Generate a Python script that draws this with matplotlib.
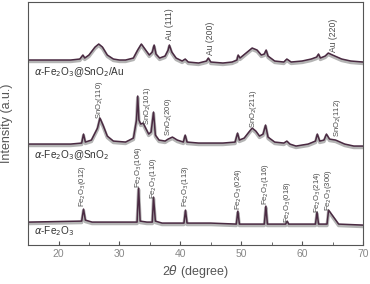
import numpy as np
import matplotlib
matplotlib.use("Agg")
import matplotlib.pyplot as plt

plt.rcParams['font.family'] = ['Liberation Sans', 'DejaVu Sans']

## points, 2theta (deg) vs intensity (a.u., arbitrary offset)
au_x = [15.2, 20, 22, 23.5, 24.0, 24.3, 25.0, 26.0, 26.6, 27.2, 28.0, 29.0, 30, 31,
        32.3, 33.0, 33.6, 34.3, 34.9, 35.4, 35.7, 36.0, 36.6, 37.5, 38.0, 38.2, 38.6,
        39.3, 40.3, 40.8, 41.3, 43, 44.3, 44.6, 45.0, 47, 48.5, 49.3, 49.5, 49.8, 50.8,
        51.8, 52.6, 53.3, 53.8, 54.1, 54.4, 55.5, 57.0, 57.5, 58.2, 60.0, 61.5, 62.4,
        62.7, 63.0, 63.8, 64.3, 65.0, 66.5, 68, 70]
au_y = [185, 185, 185, 186, 190, 187, 190, 198, 201, 198, 190, 186, 185, 185,
        187, 195, 201, 195, 190, 193, 200, 191, 187, 189, 195, 200, 193,
        187, 184, 186, 183, 182, 184, 187, 183, 182, 183, 185, 190, 187, 192,
        197, 195, 190, 191, 195, 189, 184, 183, 186, 183, 184, 186, 188,
        191, 187, 189, 192, 190, 186, 184, 183]

sn_x = [15.2, 22, 23.8, 24.1, 24.4, 25.4, 26.4, 26.8, 27.3, 28.0, 29, 31, 32.3, 32.8,
        33.0, 33.2, 33.5, 33.9, 34.3, 34.8, 35.2, 35.6, 35.9, 36.5, 37.5, 38.0, 38.7,
        39.5, 40.5, 40.8, 41.1, 43, 45, 47, 49.0, 49.4, 49.7, 50.5, 51.4, 51.8, 52.4,
        53.0, 53.6, 54.0, 54.4, 55.5, 57.0, 57.5, 58.0, 59, 61, 62.2, 62.5, 62.9, 63.6,
        64.0, 64.5, 65.5, 67, 68.5, 70]
sn_y = [101, 101, 102, 111, 103, 105, 117, 127, 120, 109, 104, 103, 107, 125,
        149, 125, 121, 122, 117, 111, 113, 133, 110, 105, 104, 106, 108,
        105, 103, 110, 103, 102, 102, 102, 103, 112, 105, 107, 114, 117, 114,
        109, 111, 120, 108, 103, 102, 104, 101, 99, 101, 104, 111, 104, 105,
        111, 106, 105, 101, 99, 99]

fe_x = [15.2, 23.8, 24.1, 24.4, 25.5, 32.9, 33.15, 33.4, 34.5, 35.4, 35.6, 35.9, 37,
        40.6, 40.85, 41.1, 45, 49.2, 49.45, 49.7, 52, 53.8, 54.05, 54.3, 56, 57.3,
        57.55, 57.8, 60, 62.2, 62.45, 62.7, 63.9, 64.1, 64.35, 66, 70]
fe_y = [23, 24, 36, 25, 23, 23, 57, 24, 23, 23, 48, 24, 22,
        22, 35, 22, 22, 21, 34, 21, 21, 21, 39, 21, 21, 21,
        24, 21, 21, 21, 33, 21, 21, 21, 35, 21, 20]

## peak labels: (2theta, label bottom, text)
au_labels = [(38.3, 205, 'Au (111)'), (44.9, 190, 'Au (200)'), (65.2, 193, 'Au (220)')]
sn_labels = [(26.8, 126, 'SnO$_2$(110)'), (34.6, 120, 'SnO$_2$(101)'),
             (38.0, 109, 'SnO$_2$(200)'), (52.0, 117, 'SnO$_2$(211)'),
             (65.8, 108, 'SnO$_2$(112)')]
fe_labels = [(24.0, 38, 'Fe$_2$O$_3$(012)'), (33.1, 57, 'Fe$_2$O$_3$(104)'),
             (35.6, 46, 'Fe$_2$O$_3$(110)'), (40.8, 38, 'Fe$_2$O$_3$(113)'),
             (49.5, 35, 'Fe$_2$O$_3$(024)'), (54.0, 40, 'Fe$_2$O$_3$(116)'),
             (57.6, 22, 'Fe$_2$O$_3$(018)'), (62.6, 32, 'Fe$_2$O$_3$(214)'),
             (64.3, 34, 'Fe$_2$O$_3$(300)')]

## sample names: (y, text)
samples = [(173, r'$\alpha$-Fe$_2$O$_3$@SnO$_2$/Au'),
           (90, r'$\alpha$-Fe$_2$O$_3$@SnO$_2$'),
           (14, r'$\alpha$-Fe$_2$O$_3$')]

line_col = '#4a2a42'
shadow_col = '#b4b4b4'
txt_col = '#4a4a4a'

fig = plt.figure(figsize=(3.7, 2.84), dpi=100)
ax = fig.add_axes([0.076, 0.137, 0.905, 0.856])

for xs, ys in [(au_x, au_y), (sn_x, sn_y), (fe_x, fe_y)]:
    ax.plot(xs, np.array(ys) - 1.5, color=shadow_col, lw=2.4, solid_joinstyle='round')
    ax.plot(xs, ys, color=line_col, lw=1.1)

for labs, fs in [(au_labels, 6.2), (sn_labels, 5.5), (fe_labels, 5.5)]:
    for x, y, t in labs:
        ax.text(x, y, t, rotation=90, ha='center', va='bottom', fontsize=fs,
                color=txt_col)

for y, t in samples:
    ax.text(16.0, y, t, fontsize=7.2, color='#333333', va='center')

ax.set_xlim(15, 70)
ax.set_ylim(0, 243)
ax.set_yticks([])
ax.set_xticks([20, 30, 40, 50, 60, 70])
ax.set_xticks([25, 35, 45, 55, 65], minor=True)
ax.tick_params(axis='x', which='major', direction='in', length=3, labelsize=7.5,
               labelcolor='#888888', color='#555555', pad=3)
ax.tick_params(axis='x', which='minor', direction='in', length=2, color='#555555')
for s in ax.spines.values():
    s.set_color('#555555')
    s.set_linewidth(0.8)

ax.set_xlabel(r'2$\theta$ (degree)', fontsize=9, color='#555555', labelpad=3)
ax.set_ylabel('Intensity (a.u.)', fontsize=9, color='#555555')
ax.yaxis.set_label_coords(-0.045, 0.5)

fig.savefig('out.png', dpi=100)
